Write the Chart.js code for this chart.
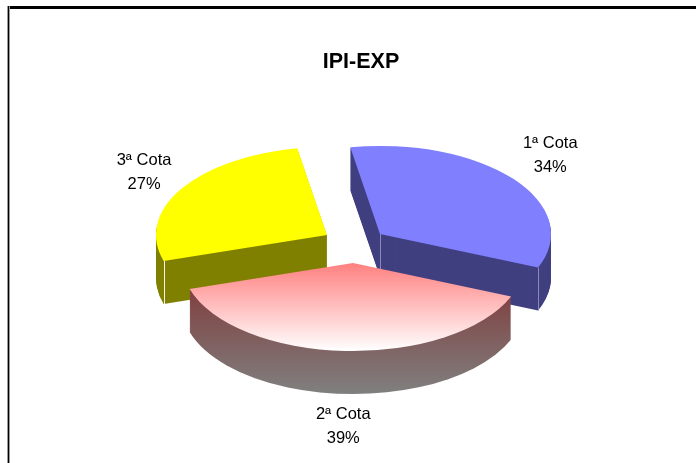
<!DOCTYPE html>
<html>
<head>
<meta charset="utf-8">
<title>IPI-EXP</title>
<script src="https://cdn.jsdelivr.net/npm/chart.js@4"></script>
<style>
  html, body { margin: 0; padding: 0; background: #fff; overflow: hidden; }
  #frameTop { position: absolute; left: 7px; top: 6px; width: 689px; height: 3px; background: #000; }
  #frameLeft { position: absolute; left: 7px; top: 6px; width: 3px; height: 457px;
    background: linear-gradient(90deg, #999 33%, #000 33% 66%, #999 66%); }
  #pie { position: absolute; left: 0; top: 0; }
</style>
</head>
<body>
<div id="frameTop"></div>
<div id="frameLeft"></div>
<canvas id="pie" width="696" height="463"></canvas>
<script>
const titleText = "IPI-EXP";
const categories = ["1ª Cota", "2ª Cota", "3ª Cota"];
const shares = [34, 39, 27];

// look of the 3D pie, in screen pixels
const squash = 0.515;
const depth = 43;
const sliceShift = [[19, -15], [-8, 14], [-34, -14]];
const labelGap = [[37, -23.5], [-2, 75.5], [-37, -16.5]];
const topColors = ["#8080ff", "#ff8080", "#ffff00"];
const wallColors = ["#404080", "#804040", "#808000"];
const wallOrder = [0, 2, 1];
const labelFont = "16.5px 'Liberation Sans', Arial, sans-serif";

function centerY(chart) {
  return (chart.chartArea.top + chart.chartArea.bottom) / 2;
}

function sliceColor(c) {
  if (c.dataIndex !== 1) return topColors[c.dataIndex];
  const area = c.chart.chartArea;
  if (!area) return topColors[1];
  // gets squashed with the arc, so it runs along the full radius
  const y0 = centerY(c.chart) + sliceShift[1][1] / squash;
  const r = (area.bottom - area.top) / 2;
  const g = c.chart.ctx.createLinearGradient(0, y0, 0, y0 + r);
  g.addColorStop(0, "#ff8080");
  g.addColorStop(1, "#ffffff");
  return g;
}

const pie3d = {
  id: "pie3d",
  afterDatasetsUpdate(chart) {
    // explode the slices
    chart.getDatasetMeta(0).data.forEach(function (el, i) {
      el.x += sliceShift[i][0];
      el.y += sliceShift[i][1] / squash;
    });
  },
  beforeDatasetsDraw(chart) {
    const ctx = chart.ctx;
    const cy = centerY(chart);
    const arcs = chart.getDatasetMeta(0).data;

    wallOrder.forEach(function (i) {
      const el = arcs[i];
      const r = el.outerRadius;
      const b = r * squash;
      const sx = el.x;
      const sy = cy + (el.y - cy) * squash;
      let fill = wallColors[i];
      if (i === 1) {
        fill = ctx.createLinearGradient(0, sy + 27, 0, sy + b + depth);
        fill.addColorStop(0, "#804040");
        fill.addColorStop(1, "#808080");
      }
      ctx.fillStyle = fill;
      for (let d = depth; d > 0; d--) {
        ctx.beginPath();
        ctx.moveTo(sx, sy + d);
        ctx.ellipse(sx, sy + d, r, b, 0, el.startAngle, el.endAngle);
        ctx.closePath();
        ctx.fill();
      }
      // thin light lines on the wall corners
      const corners = i === 0 ? [el.endAngle, null] : i === 2 ? [el.startAngle] : [];
      ctx.strokeStyle = i === 0 ? "#8a8ab8" : "#f4f4e8";
      ctx.lineWidth = 1;
      corners.forEach(function (a) {
        const x = a === null ? sx : sx + Math.cos(a) * r;
        const y = a === null ? sy : sy + Math.sin(a) * b;
        ctx.beginPath();
        ctx.moveTo(Math.round(x) + 0.5, y);
        ctx.lineTo(Math.round(x) + 0.5, y + depth);
        ctx.stroke();
      });
    });

    // top faces are drawn by Chart.js, flattened into ellipses
    ctx.save();
    ctx.translate(0, cy);
    ctx.scale(1, squash);
    ctx.translate(0, -cy);
  },
  afterDatasetsDraw(chart) {
    const ctx = chart.ctx;
    ctx.restore();

    const cy = centerY(chart);
    const total = shares.reduce(function (a, b) { return a + b; }, 0);
    ctx.fillStyle = "#000";
    ctx.font = labelFont;
    ctx.textAlign = "center";
    ctx.textBaseline = "middle";
    chart.getDatasetMeta(0).data.forEach(function (el, i) {
      const mid = (el.startAngle + el.endAngle) / 2;
      const x = el.x + Math.cos(mid) * el.outerRadius + labelGap[i][0];
      const y = cy + (el.y - cy) * squash + Math.sin(mid) * el.outerRadius * squash + labelGap[i][1];
      ctx.fillText(categories[i], x, y - 12);
      ctx.fillText(Math.round(shares[i] / total * 100) + "%", x, y + 12);
    });
  }
};

new Chart(document.getElementById("pie"), {
  type: "pie",
  data: {
    labels: categories,
    datasets: [{
      data: shares,
      backgroundColor: sliceColor,
      borderWidth: 0,
      clip: false
    }]
  },
  options: {
    responsive: false,
    animation: false,
    events: [],
    rotation: -10,
    layout: { padding: { left: 190, right: 164, top: 0, bottom: 43 } },
    plugins: {
      legend: { display: false },
      tooltip: { enabled: false },
      title: {
        display: true,
        text: titleText,
        color: "#000",
        font: { family: "'Liberation Sans', Arial, sans-serif", size: 21.5, weight: "bold" },
        padding: { top: 49.5, bottom: 2.7 }
      }
    }
  },
  plugins: [pie3d]
});
</script>
</body>
</html>
